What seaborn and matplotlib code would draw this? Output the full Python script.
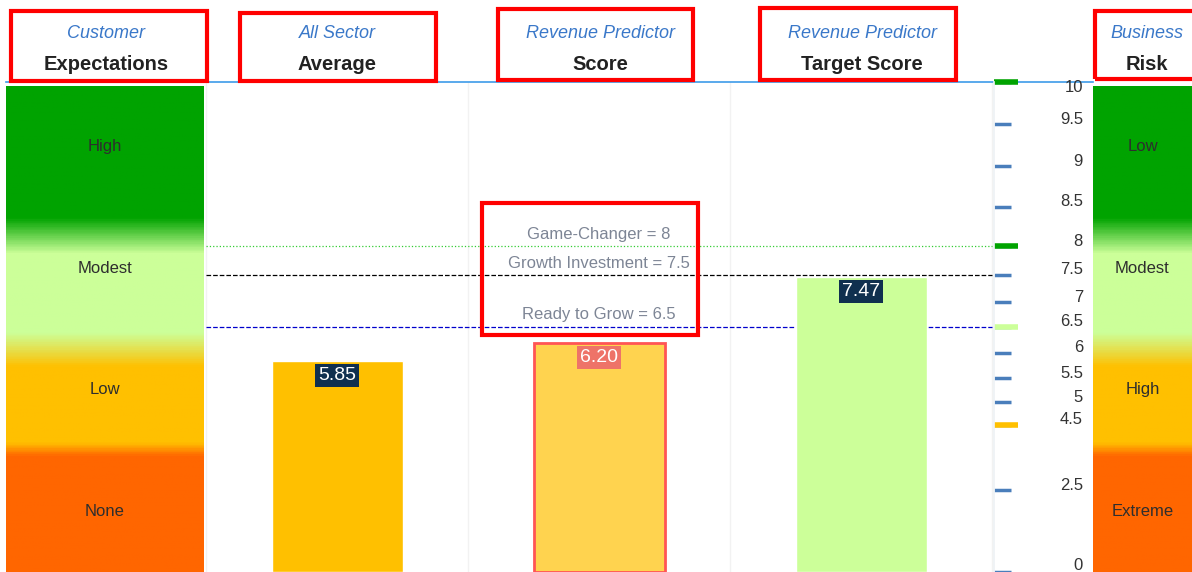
import numpy as np
import pandas as pd
import matplotlib
matplotlib.use("Agg")
import matplotlib.pyplot as plt
from matplotlib.colors import LinearSegmentedColormap
from matplotlib.patches import Rectangle
import seaborn as sns

# ---- data ----
bar_names = ["All Sector Average", "Revenue Predictor Score", "Revenue Predictor Target Score"]
bar_values = [5.85, 6.20, 7.47]
bar_colors = ["#FFC000", "#FFD34F", "#CCFF99"]
label_colors = ["#10304F", "#EE7368", "#10304F"]

header_top = ["Customer", "All Sector", "Revenue Predictor", "Revenue Predictor", "Business"]
header_bottom = ["Expectations", "Average", "Score", "Target Score", "Risk"]

left_bands = ["High", "Modest", "Low", "None"]
right_bands = ["Low", "Modest", "High", "Extreme"]

threshold_names = ["Game-Changer", "Growth Investment", "Ready to Grow"]
threshold_values = [8, 7.5, 6.5]
threshold_colors = ["#33CC33", "#000000", "#0000CC"]
threshold_styles = [":", "--", "--"]

tick_values = [0, 2.5, 4.5, 5, 5.5, 6, 6.5, 7, 7.5, 8, 8.5, 9, 9.5, 10]
marker_values = [10, 8, 6.5, 4.5]
marker_colors = ["#00A300", "#00A300", "#CCFF99", "#FFC000"]

# ---- layout helpers (pixel coords of a 1192x572 canvas) ----
W, H = 1192, 572


def box(x0, y0, x1, y1):
    return [x0 / W, 1 - y1 / H, (x1 - x0) / W, (y1 - y0) / H]


# the value axis is not linear: piecewise mapping of the gauge
scale_vals = np.array(tick_values, dtype=float)
scale_pos = 572 - np.array([572, 490, 425, 402, 378, 353, 327, 302, 275, 246, 207, 166, 124, 82], dtype=float)


def fwd(v):
    return np.interp(v, scale_vals, scale_pos)


def inv(h):
    return np.interp(h, scale_pos, scale_vals)


sns.set_theme(style="white")
plt.rcParams["font.family"] = ["Liberation Sans", "DejaVu Sans"]

fig = plt.figure(figsize=(W / 100, H / 100), dpi=100)

# ---- main bar area ----
ax = fig.add_axes(box(6, 82, 1093, 572))
df = pd.DataFrame({"name": bar_names, "value": bar_values})
sns.barplot(data=df, x="name", y="value", hue="name", palette=bar_colors,
            saturation=1, width=0.5, legend=False, ax=ax, zorder=2)
ax.containers[1][0].set_edgecolor("#FF5555")
ax.containers[1][0].set_linewidth(2)

ax.set_yscale("function", functions=(fwd, inv))
ax.set_ylim(0, 10)
ax.set_xlim((6 - 337) / 262, (1093 - 337) / 262)

for name, v, c, ls in zip(threshold_names, threshold_values, threshold_colors, threshold_styles):
    ax.hlines(v, -0.5, 2.5, colors=c, linestyles=ls, lw=0.9, zorder=1)
    ax.annotate(f"{name} = {v:g}", xy=(1, v), xytext=(0, 12), textcoords="offset pixels",
                ha="center", va="center", color="#7D8595", fontsize=12, zorder=4)

for i, (v, c) in enumerate(zip(bar_values, label_colors)):
    ax.annotate(f"{v:.2f}", xy=(i, v), xytext=(0, -15), textcoords="offset pixels",
                ha="center", va="center", color="white", fontsize=14, zorder=5,
                bbox=dict(boxstyle="square,pad=0.15", fc=c, ec="none"))

ax.set_xticks([])
ax.set_xticks([-0.5, 0.5, 1.5, 2.5], minor=True)
ax.grid(which="minor", axis="x", color="#F2F2F2", lw=1)
ax.set_axisbelow(True)
ax.tick_params(which="both", bottom=False, labelbottom=False, left=False, labelleft=False)
ax.set_xlabel("")
ax.set_ylabel("")
for s in ["left", "right", "bottom"]:
    ax.spines[s].set_visible(False)
ax.spines["top"].set_color("#3D9BE9")
ax.spines["top"].set_linewidth(1.2)

# ---- gauge ticks ----
tax = fig.add_axes(box(994, 82, 1087, 572))
tax.set_yscale("function", functions=(fwd, inv))
tax.set_ylim(0, 10)
tax.set_xlim(0, 1)
tax.patch.set_alpha(0)
tax.set_xticks([])
tax.set_yticks(tick_values)
tax.tick_params(axis="y", direction="in", length=12, width=2.5, color="#4A7EBB",
                labelleft=False, left=True)
for s in ["top", "right", "bottom"]:
    tax.spines[s].set_visible(False)
tax.spines["left"].set_color("#EEF2F5")
for v, c in zip(marker_values, marker_colors):
    tax.axhline(v, 0, 0.26, color=c, lw=4, solid_capstyle="butt", clip_on=False)
for v in tick_values:
    if v == max(tick_values):
        dy = -6
    elif v == min(tick_values):
        dy = 7
    else:
        dy = 5
    tax.annotate(f"{v:g}", xy=(1, v), xycoords=("axes fraction", "data"), xytext=(-4, dy),
                 textcoords="offset pixels", ha="right", va="center", fontsize=12, color="#333333")

# ---- gradient columns ----
cmap = LinearSegmentedColormap.from_list("gauge", [
    (0, "#00A300"), (0.27, "#00A300"), (0.344, "#CCFF99"), (0.508, "#CCFF99"),
    (0.578, "#FFC000"), (0.735, "#FFC000"), (0.763, "#FF6600"), (1, "#FF6600")])
grad = np.linspace(0, 1, 600).reshape(-1, 1)
for rect, bands in [((6, 86, 204, 572), left_bands), ((1093, 86, 1192, 572), right_bands)]:
    gax = fig.add_axes(box(*rect))
    gax.imshow(grad, cmap=cmap, aspect="auto", extent=(0, 1, 0, 1), origin="upper")
    gax.set_xlim(0, 1)
    gax.set_ylim(0, 1)
    gax.axis("off")
    for k, name in enumerate(bands):
        gax.text(0.5, 1 - (k + 0.5) / len(bands), name, ha="center", va="center",
                 fontsize=12, color="#2E2E2E")

# ---- headers ----
header_x = [106, 337, 600, 862, 1147]
for x, top, bottom in zip(header_x, header_top, header_bottom):
    fig.text(x / W, 1 - 34 / H, top, ha="center", va="center", style="italic",
             fontsize=13, color="#3A78C9")
    fig.text(x / W, 1 - 65 / H, bottom, ha="center", va="center", weight="bold",
             fontsize=14.5, color="#222222")

# red highlight frames
frames = [(11, 11, 207, 81), (240, 13, 436, 81), (498, 9, 693, 80), (760, 8, 956, 80),
          (1095, 11, 1200, 79), (482, 203, 698, 335)]
for x0, y0, x1, y1 in frames:
    fig.add_artist(Rectangle((x0 / W, 1 - y1 / H), (x1 - x0) / W, (y1 - y0) / H,
                             transform=fig.transFigure, fill=False, ec="#FF0000", lw=3))

fig.savefig("out.png", dpi=100)
